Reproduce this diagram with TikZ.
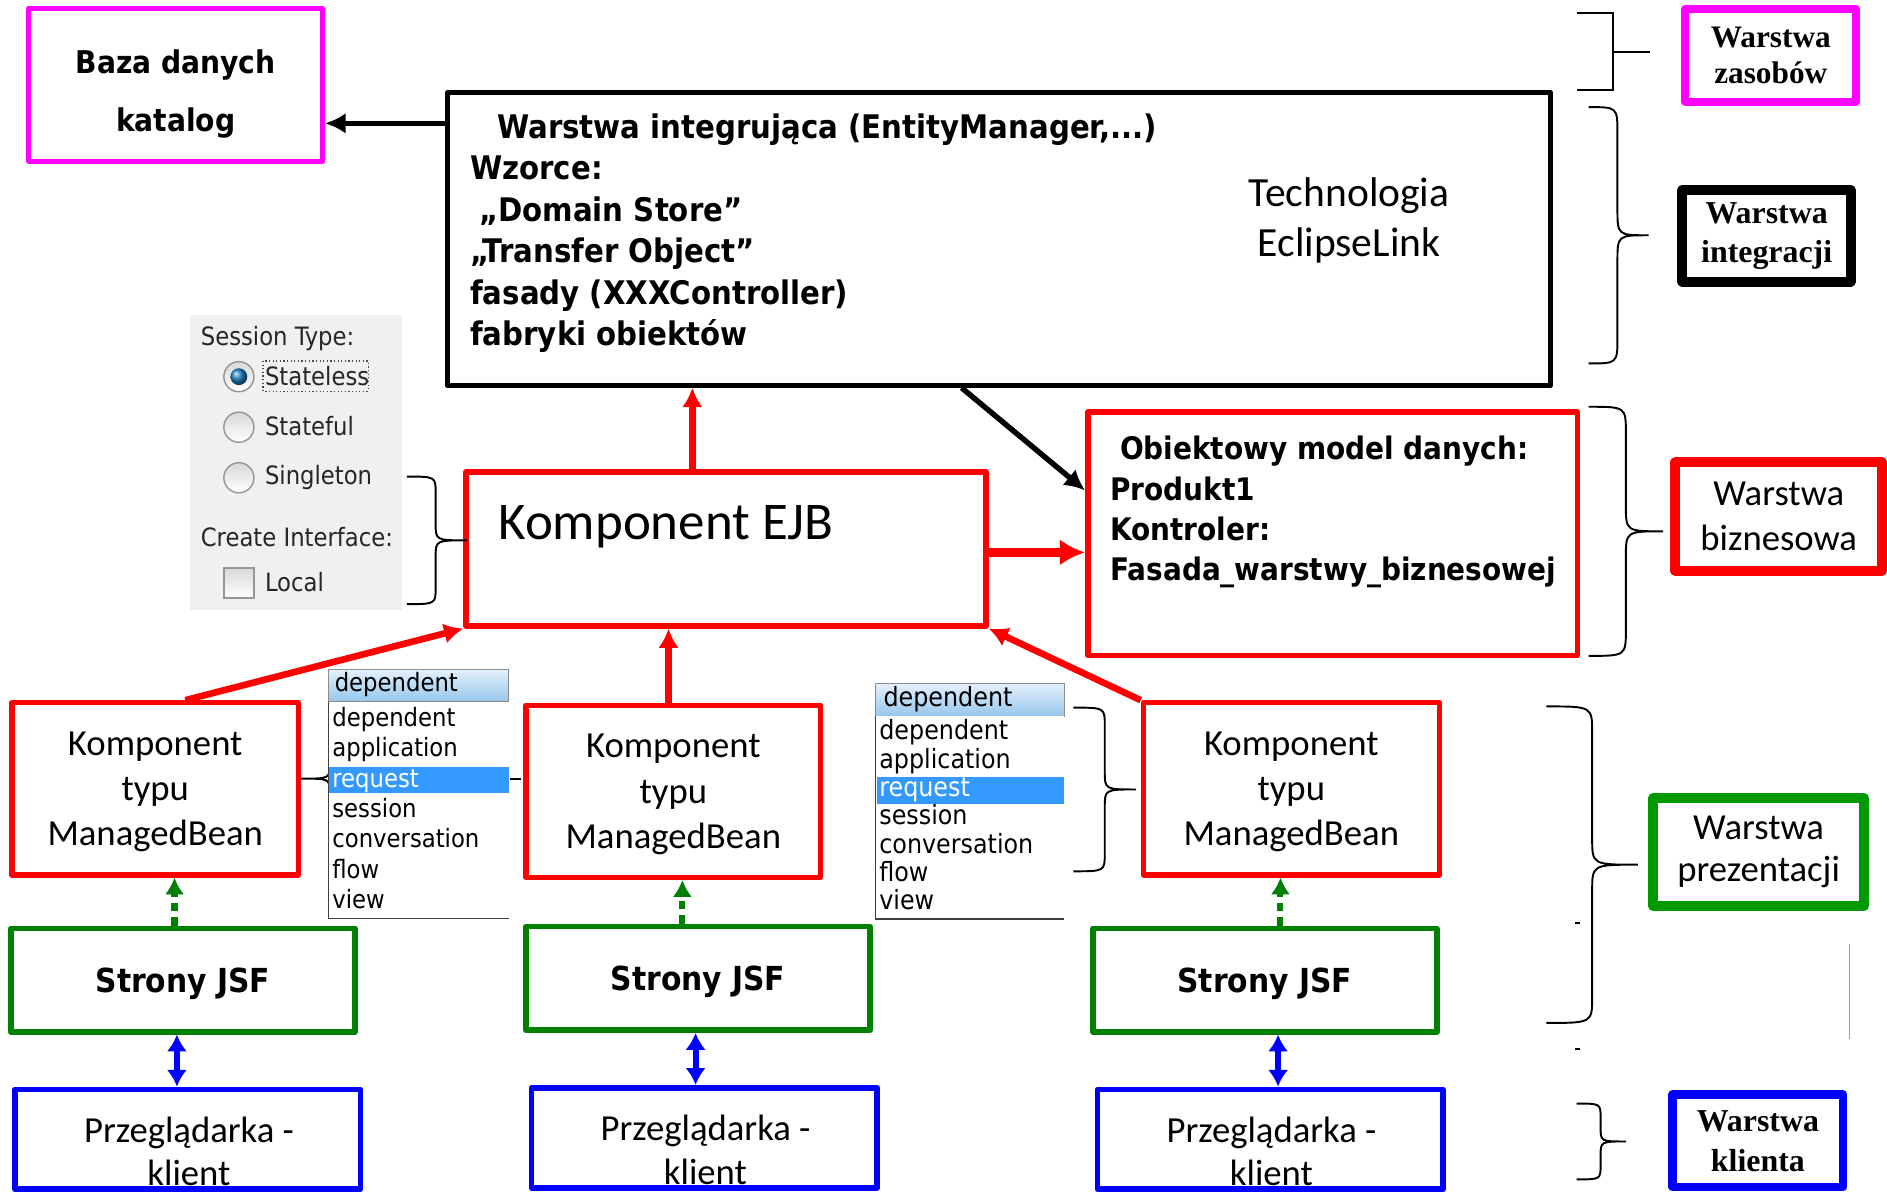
\documentclass[tikz,border=0pt]{standalone}
\usepackage{fontspec}
\setmainfont{Carlito}
\newfontfamily\tahoma{DejaVu Sans Condensed}[BoldFont={DejaVu Sans Condensed Bold}]
\newfontfamily\timesbf{Liberation Serif}
\usetikzlibrary{arrows.meta,calc}

\definecolor{resmagenta}{RGB}{255,0,255}
\definecolor{jsfgreen}{RGB}{0,128,0}
\definecolor{prezgreen}{RGB}{0,153,0}
\definecolor{selblue}{RGB}{51,153,255}
\definecolor{panelgray}{RGB}{240,240,240}
\definecolor{hdrtop}{RGB}{228,241,252}
\definecolor{hdrbot}{RGB}{150,198,236}
\definecolor{radiogray}{RGB}{150,150,150}
\definecolor{radioblue}{RGB}{30,130,200}

% curly brace: x of ends, x of spine, x of tip, top y, bottom y, bend
\newcommand{\layerbrace}[6]{%
  \draw[bracepen] (#1,#4) .. controls (#2,#4) .. (#2,#4+#6)
    -- (#2,{(#4+#5)/2-#6}) .. controls (#2,{(#4+#5)/2}) .. (#3,{(#4+#5)/2})
    .. controls (#2,{(#4+#5)/2}) .. (#2,{(#4+#5)/2+#6})
    -- (#2,#5-#6) .. controls (#2,#5) .. (#1,#5);}

\tikzset{
  boxframe/.style={draw, rectangle, inner sep=0pt, line join=round, align=center},
  bracepen/.style={black, line width=1.6pt},
  listtext/.style={anchor=base west, inner sep=0pt, font=\tahoma\fontsize{21}{25}\selectfont},
  sessiontext/.style={anchor=base west, inner sep=0pt, text=black!85, font=\tahoma\fontsize{21}{25}\selectfont},
  radio/.style={circle, draw=radiogray, line width=1.2pt, minimum size=25pt, inner sep=0pt, top color=black!15, bottom color=white},
  redarrow/.style={red, line width=5.5pt, -{Latex[length=16pt,width=17pt]}},
  blackarrow/.style={black, line width=4.5pt, -{Latex[length=17pt,width=17pt]}},
  jsfarrow/.style={jsfgreen, line width=5pt, dash pattern=on 7pt off 5pt, -{Latex[length=14pt,width=16pt]}},
  userarrow/.style={blue, line width=5pt, {Latex[length=14pt,width=17pt]}-{Latex[length=14pt,width=17pt]}}
}

\begin{document}
\begin{tikzpicture}[x=1pt, y=-1pt]
    \useasboundingbox (0,0) rectangle (1568,990);
    \clip (0,0) rectangle (1568,990);

    % resources
    \node[boxframe, draw=resmagenta, line width=4.2pt, minimum width=244pt, minimum height=127pt] (baza) at (146,70.5) {};
    \node[font=\tahoma\bfseries\fontsize{26}{48.5}\selectfont, align=center, anchor=base] (bazatxt) at (146,109.5) {Baza danych\\katalog};

    % integration
    \node[boxframe, line width=4.2pt, minimum width=917pt, minimum height=243pt] (integ) at (830,198.6) {};
    \node[font=\tahoma\bfseries\fontsize{27}{34.5}\selectfont, align=left, anchor=base west, inner sep=0pt] (integtxt) at (390.5,287.5)
        {\hspace*{22.5pt}Warstwa integrująca (EntityManager,...)\\Wzorce:\\\hspace*{7.5pt}„Domain Store”\\„Transfer Object”\\fasady (XXXController)\\fabryki obiektów};
    \node[font=\fontsize{34.5}{41.5}\selectfont, align=center, anchor=base] (techtxt) at (1121,213.5) {Technologia\\EclipseLink};

    % business
    \node[boxframe, draw=red, line width=4.6pt, minimum width=432pt, minimum height=128pt] (ejb) at (603.3,456) {};
    \node[font=\fontsize{44}{50}\selectfont, anchor=base west, inner sep=0pt] (ejbtxt) at (414,448) {Komponent EJB};
    \node[boxframe, draw=red, line width=4.6pt, minimum width=407pt, minimum height=202pt] (obj) at (1107.4,443.5) {};
    \node[font=\tahoma\bfseries\fontsize{25.8}{33.5}\selectfont, align=left, anchor=base west, inner sep=0pt] (objtxt) at (922.5,482.5)
        {\hspace*{8pt}Obiektowy model danych:\\Produkt1\\Kontroler:\\Fasada\_warstwy\_biznesowej};

    % presentation
    \foreach \i/\x/\y/\w in {1/129/655.5/238, 2/559.5/657.5/245, 3/1073/655.5/246}
        \node[boxframe, draw=red, line width=4.4pt, minimum width=\w pt, minimum height=143pt, text depth=0pt, font=\fontsize{30.5}{37.5}\selectfont] (mb\i) at (\x,\y) {Komponent\\typu\\ManagedBean};
    \foreach \i/\x/\y in {1/152/814.4, 2/580/813, 3/1051/814.4}
        \node[boxframe, draw=jsfgreen, line width=4.6pt, minimum width=286pt, minimum height=86pt, text depth=0pt, font=\tahoma\bfseries\fontsize{27.5}{33}\selectfont] (jsf\i) at (\x,\y) {Strony JSF};

    % client
    \foreach \i/\x/\y in {1/156/946.8, 2/585.2/945.4, 3/1055.5/946.8} {
        \node[boxframe, draw=blue, line width=4.8pt, minimum width=287pt, minimum height=83pt] (pr\i) at (\x,\y) {};
        \node[font=\fontsize{30.5}{36}\selectfont, align=center, anchor=base] (prtxt\i) at (\x+1,\y+38.5) {Przeglądarka -\\klient};
    }

    % connectors
    \draw[blackarrow] ($(integ.west |- baza.east)+(0,32)$) -- ($(baza.east)+(0,32)$);
    \draw[blackarrow] ($(integ.south)+(-31,0)$) -- ($(obj.west)+(0,-36)$);
    \draw[redarrow] ($(ejb.north)+(-28,0)$) -- ($(ejb.north |- integ.south)+(-28,0)$);
    \draw[redarrow, line width=8pt, -{Latex[length=21pt,width=22pt]}] ($(ejb.east)+(0,3)$) -- ($(ejb.east -| obj.west)+(0,3)$);
    \draw[redarrow] ($(mb1.north)+(25,0)$) -- (ejb.south west);
    \draw[redarrow] ($(mb2.north)+(-4,0)$) -- ($(mb2.north |- ejb.south)+(-4,0)$);
    \draw[redarrow] (mb3.north west) -- (ejb.south east);
    \foreach \i/\dx in {1/-7, 2/-13, 3/13}
        \draw[jsfarrow] ($(jsf\i.north)+(\dx,0)$) -- ($(jsf\i.north |- mb\i.south)+(\dx,0)$);
    \foreach \i/\dx in {1/-5, 2/-2, 3/11}
        \draw[userarrow] ($(jsf\i.south)+(\dx,0)$) -- ($(jsf\i.south |- pr\i.north)+(\dx,0)$);

    % session bean dialog
    \fill[panelgray] (158,262) rectangle (334,507);
    \node[sessiontext] (stype) at (166.7,286.7) {Session Type:};
    \foreach \t/\y/\b [count=\i] in {Stateless/313/7, Stateful/355/6.5, Singleton/397/6} {
        \node[radio] (rb\i) at (198.5,\y) {};
        \node[sessiontext] (rt\i) at (220,\y+\b) {\t};
    }
    \shade[ball color=radioblue] (rb1.center) circle (7);
    \draw[dotted, line width=1pt, black!70] (218.5,300) rectangle (306,325);
    \node[sessiontext] (cint) at (166.7,454.4) {Create Interface:};
    \node[draw=radiogray, line width=1.2pt, minimum size=25pt, inner sep=0pt, top color=black!15, bottom color=white] (cbox) at (198.5,484.5) {};
    \node[sessiontext] (local) at (220,491.6) {Local};
    \layerbrace{338}{362}{388}{396}{502}{14}

    % scope lists
    \layerbrace{300}{274}{250}{588}{706}{12}
    \draw[bracepen] (424,647) -- (433,647);
    \shade[top color=hdrtop, bottom color=hdrbot, draw=black!45] (273,556) rectangle (422,583);
    \fill[white] (273,583) rectangle (423,763);
    \draw[line width=1.2pt, black!75] (423,763) -- (273,763) -- (273,583);
    \fill[selblue] (273,637) rectangle (423,659);
    \node[listtext] (lhead) at (278,575) {dependent};
    \foreach \t/\c [count=\i] in {dependent/black, application/black, request/white, session/black, conversation/black, flow/black, view/black}
        \node[listtext, text=\c] (litem\i) at (276,578.5+25.2*\i) {\t};

    \layerbrace{892}{918}{944}{588}{724}{15}
    \shade[top color=hdrtop, bottom color=hdrbot, draw=black!45] (727,568) rectangle (884,595);
    \fill[white] (727,595) rectangle (884,763);
    \draw[line width=1.2pt, black!75] (884,763.5) -- (727.5,763.5) -- (727.5,595);
    \fill[selblue] (729,645.5) rectangle (884,668);
    \node[listtext, font=\tahoma\fontsize{22}{25}\selectfont] (rhead) at (734,587.4) {dependent};
    \foreach \t/\c [count=\i] in {dependent/black, application/black, request/white, session/black, conversation/black, flow/black, view/black}
        \node[listtext, text=\c, font=\tahoma\fontsize{22}{25}\selectfont] (ritem\i) at (730.5,591.3+23.5*\i) {\t};

    % layer labels
    \draw[bracepen] (1310,11) -- (1340,11) -- (1340,75) -- (1310,75);
    \draw[bracepen] (1340,43) -- (1371,43);
    \node[boxframe, draw=resmagenta, line width=6.4pt, minimum width=142pt, minimum height=77pt, font=\timesbf\bfseries\fontsize{26}{30.5}\selectfont] (zaslab) at (1471.4,46) {Warstwa\\zasobów};
    \layerbrace{1320}{1344}{1370}{89}{302}{22}
    \node[boxframe, line width=8.3pt, minimum width=140pt, minimum height=76pt, font=\timesbf\bfseries\fontsize{26.5}{32}\selectfont] (intlab) at (1468,196) {Warstwa\\integracji};
    \layerbrace{1320}{1351}{1382}{338}{545}{22}
    \node[boxframe, draw=red, line width=8.3pt, minimum width=172pt, minimum height=90pt, font=\fontsize{30.5}{37.5}\selectfont] (bizlab) at (1478,429.3) {Warstwa\\biznesowa};
    \layerbrace{1285}{1323}{1361}{587}{850}{22}
    \node[boxframe, draw=prezgreen, line width=8.3pt, minimum width=175pt, minimum height=90pt, font=\fontsize{30.5}{35}\selectfont] (prezlab) at (1461.3,708) {Warstwa\\prezentacji};
    \draw[bracepen] (1309,767) -- (1313,767);
    \draw[bracepen] (1309,872) -- (1313,872);
    \draw[prezgreen!60, line width=0.8pt] (1537,784) -- (1537,863);
    \layerbrace{1310}{1330}{1351}{917}{980}{12}
    \node[boxframe, draw=blue, line width=6.9pt, minimum width=142pt, minimum height=77pt, font=\timesbf\bfseries\fontsize{26.5}{33}\selectfont] (klab) at (1460.7,948) {Warstwa\\klienta};
\end{tikzpicture}
\end{document}
